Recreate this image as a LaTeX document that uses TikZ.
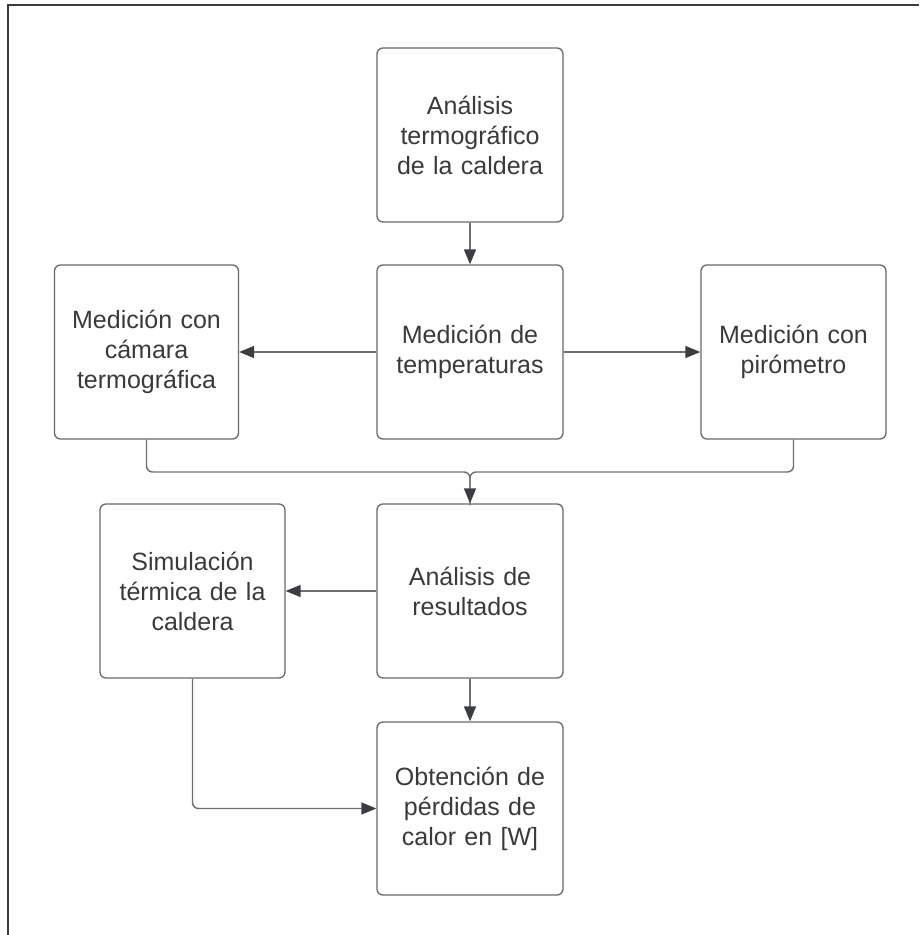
\documentclass[tikz,border=0pt]{standalone}
\usepackage{fontspec}
\setmainfont{Liberation Sans}
\usetikzlibrary{arrows.meta,calc}
\definecolor{txt}{RGB}{58,58,58}
\definecolor{boxline}{RGB}{105,105,105}
\definecolor{conn}{RGB}{110,110,110}
\definecolor{tip}{RGB}{58,62,68}
\definecolor{frame}{RGB}{60,60,60}
\tikzset{
  stepbox/.style={draw=boxline, line width=1.3pt, rounded corners=6pt, fill=white,
    text=txt, align=center, font=\fontsize{25}{30}\selectfont,
    inner sep=0pt, text width=175pt},
  conn/.style={draw=conn, line width=1.4pt, rounded corners=6pt,
    -{Triangle[length=15pt,width=12pt,fill=tip,color=tip]}},
  plain/.style={draw=conn, line width=1.4pt, rounded corners=6pt}
}
\begin{document}
\begin{tikzpicture}[x=1pt,y=-1pt]
\useasboundingbox (0,0) rectangle (919,935);
\draw[frame, line width=2pt] (8,935) -- (8,4.5) -- (919,4.5);

\node[stepbox, minimum width=186pt, minimum height=174pt] (A) at (470,135) {Análisis\\termográfico\\de la caldera};
\node[stepbox, minimum width=186pt, minimum height=174pt] (B) at (470,352) {Medición de\\temperaturas};
\node[stepbox, minimum width=184pt, minimum height=174pt] (C) at (146.5,352) {Medición con\\cámara\\termográfica};
\node[stepbox, minimum width=185pt, minimum height=174pt] (D) at (793.5,352) {Medición con\\pirómetro};
\node[stepbox, minimum width=186pt, minimum height=174pt] (E) at (470,591) {Análisis de\\resultados};
\node[stepbox, minimum width=185pt, minimum height=174pt] (F) at (192.5,591) {Simulación\\térmica de la\\caldera};
\node[stepbox, minimum width=186pt, minimum height=173pt] (G) at (470,808.5) {Obtención de\\pérdidas de\\calor en [W]};

\coordinate (M) at (470,472);

\draw[conn] (A.south) -- (B.north);
\draw[conn] (B.west) -- (C.east);
\draw[conn] (B.east) -- (D.east -| D.west);
\draw[plain] (C.south) |- (M) -- ([yshift=-2pt]M |- E.north);
\draw[conn] (D.south) |- (M) -- (E.north);
\draw[conn] (E.west) -- (F.east);
\draw[conn] (E.south) -- (G.north);
\draw[conn] (F.south) |- (G.west);
\end{tikzpicture}
\end{document}
